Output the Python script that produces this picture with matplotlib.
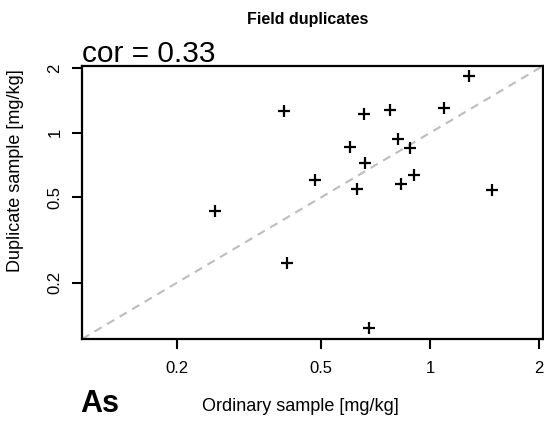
import numpy as np
import matplotlib
matplotlib.use("Agg")
import matplotlib.pyplot as plt
from matplotlib.ticker import FixedLocator, NullLocator, FixedFormatter

plt.rcParams['font.family'] = ['Liberation Sans', 'DejaVu Sans']

# field duplicate pairs (mg/kg)
ordinary = [1.28, 0.394, 0.656, 0.776, 1.09, 0.813, 0.602, 0.877, 0.662,
            0.479, 0.90, 0.627, 0.831, 1.48, 0.254, 0.402, 0.676]
duplicate = [1.85, 1.266, 1.226, 1.284, 1.308, 0.931, 0.857, 0.851, 0.719,
             0.600, 0.632, 0.548, 0.576, 0.540, 0.433, 0.248, 0.123]
tick_vals = [0.2, 0.5, 1, 2]
tick_labels = ['0.2', '0.5', '1', '2']
element = 'As'
cor_value = 0.33

fig = plt.figure(figsize=(5.44, 4.23), dpi=100)
ax = fig.add_axes([0.1507, 0.1986, 0.8473, 0.6454])

ax.set_xscale('log')
ax.set_yscale('log')
lims = (0.109, 2.05)
ax.set_xlim(lims)
ax.set_ylim(lims)

# 1:1 line
ax.axline((1, 1), (2, 2), color='#bdbdbd', lw=1.5, ls=(0, (4, 3)), zorder=1)

ax.plot(ordinary, duplicate, ls='none', marker='+', ms=8, mew=1.6,
        color='black', zorder=3)

for a in (ax.xaxis, ax.yaxis):
    a.set_major_locator(FixedLocator(tick_vals))
    a.set_major_formatter(FixedFormatter(tick_labels))
    a.set_minor_locator(NullLocator())

ax.tick_params(axis='both', direction='out', length=7, width=1.5, labelsize=12)
ax.tick_params(axis='x', pad=9)
ax.tick_params(axis='y', pad=7, labelrotation=90)
for lbl in ax.get_yticklabels():
    lbl.set_va('center')

for sp in ax.spines.values():
    sp.set_linewidth(1.6)

# labels placed where the original device put them
fig.text(0.553, 0.038, 'Ordinary sample [mg/kg]', ha='center', va='center',
         fontsize=13)
fig.text(0.028, 0.596, 'Duplicate sample [mg/kg]', ha='center', va='center',
         fontsize=13, rotation=90)

fig.text(0.565, 0.955, 'Field duplicates', ha='center', va='center',
         fontsize=11.5, fontweight='bold')
fig.text(0.150, 0.840, f'cor = {cor_value:.2f}', ha='left', va='bottom',
         fontsize=21.5)
fig.text(0.147, 0.025, element, ha='left', va='baseline',
         fontsize=22, fontweight='bold')

fig.savefig('out.png', dpi=100)
